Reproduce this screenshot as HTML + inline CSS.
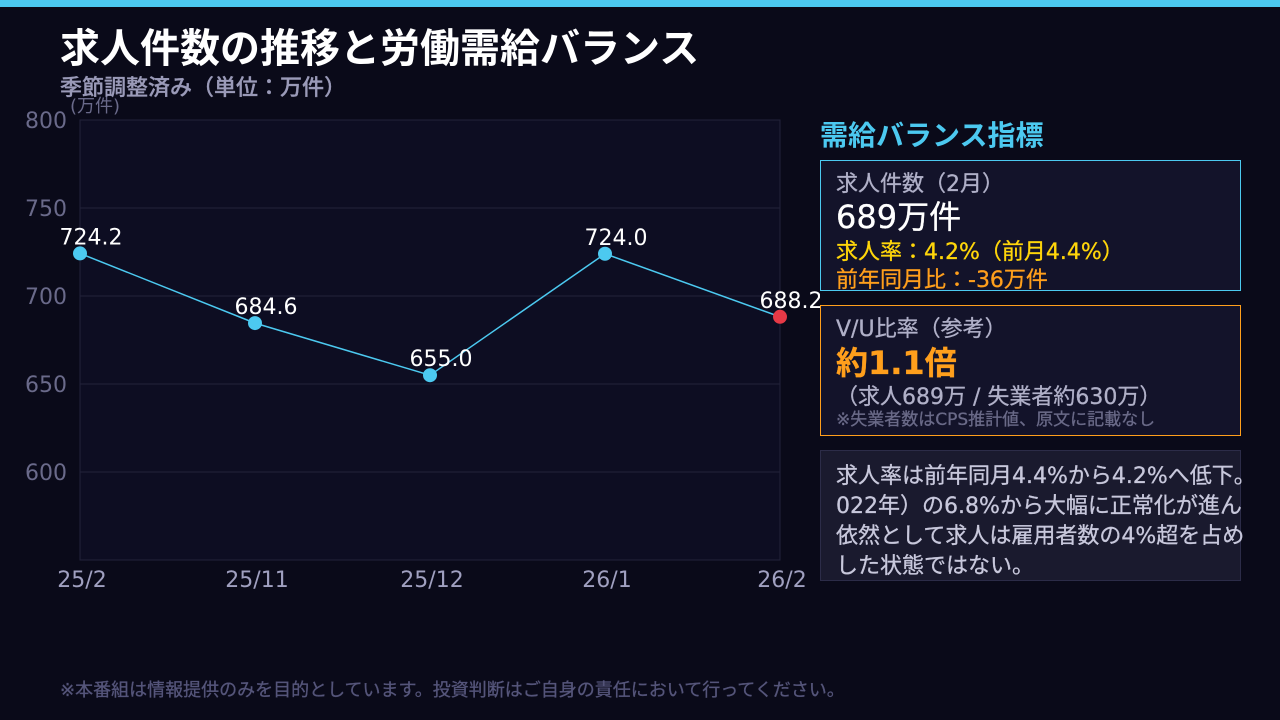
<!DOCTYPE html>
<html><head><meta charset="utf-8">
<style>
body{margin:0;width:1280px;height:720px;background:#0a0a19;overflow:hidden;font-family:"DejaVu Sans","Noto Sans CJK JP",sans-serif;position:relative}
.a{position:absolute;white-space:nowrap;line-height:1.15}
.box{position:absolute;left:820px;width:421px;box-sizing:border-box;background:#13132a}
.box .a{-webkit-text-stroke:0.3px currentColor}
</style></head><body>
<div class="a" style="left:0;top:0;width:1280px;height:7px;background:#4cc9f0"></div>
<div class="a" style="left:60px;top:22px;font-size:40px;font-weight:bold;color:#fff;font-family:'Noto Sans CJK JP',sans-serif">求人件数の推移と労働需給バランス</div>
<div class="a" style="left:60px;top:76px;font-size:22px;font-weight:500;color:#9a9ab8;-webkit-text-stroke:0.3px #9a9ab8">季節調整済み（単位：万件）</div>
<svg class="a" style="left:0;top:0" width="820" height="600" id="ch"></svg>
<div class="a" style="left:820px;top:120px;font-size:28px;font-weight:bold;color:#4cc9f0">需給バランス指標</div>
<div class="box" style="top:160px;height:131px;border:1px solid #4cc9f0">
 <div class="a" style="left:15px;top:11px;font-size:22px;color:#b0b0c8">求人件数（2月）</div>
 <div class="a" style="left:15px;top:38px;font-size:32px;color:#fff">689万件</div>
 <div class="a" style="left:15px;top:79px;font-size:22px;color:#ffd60a">求人率：4.2%（前月4.4%）</div>
 <div class="a" style="left:15px;top:107px;font-size:22px;color:#ff9f1c">前年同月比：-36万件</div>
</div>
<div class="box" style="top:305px;height:131px;border:1px solid #ff9f1c">
 <div class="a" style="left:15px;top:11px;font-size:22px;color:#b0b0c8">V/U比率（参考）</div>
 <div class="a" style="left:15px;top:39px;font-size:32px;font-weight:bold;color:#ff9f1c">約1.1倍</div>
 <div class="a" style="left:15px;top:79px;font-size:22px;color:#b0b0c8">（求人689万 / 失業者約630万）</div>
 <div class="a" style="left:15px;top:105px;font-size:17px;color:#6a6a88">※失業者数はCPS推計値、原文に記載なし</div>
</div>
<div class="box" style="top:450px;height:131px;border:1px solid #2c2c48;background:#1a1a2e;overflow:visible">
 <div class="a" style="left:15px;top:11px;font-size:22px;line-height:30px;color:#c8c8dc">求人率は前年同月4.4%から4.2%へ低下。<br>022年）の6.8%から大幅に正常化が進ん<br>依然として求人は雇用者数の4%超を占め<br>した状態ではない。</div>
</div>
<div class="a" style="left:60px;top:681px;font-size:18px;color:#55557a;-webkit-text-stroke:0.3px #55557a">※本番組は情報提供のみを目的としています。投資判断はご自身の責任において行ってください。</div>
<script>
const categories=["25/2","25/11","25/12","26/1","26/2"];
const values=[724.2,684.6,655.0,724.0,688.2];
const yTicks=[600,650,700,750,800];
const ns="http://www.w3.org/2000/svg",svg=document.getElementById('ch');
const X0=80,X1=780,Y0=120,Y1=560,ymin=550,ymax=800;
const FF='"DejaVu Sans","Noto Sans CJK JP",sans-serif';
const xs=i=>X0+i*(X1-X0)/(categories.length-1);
const ys=v=>Y1-(v-ymin)/(ymax-ymin)*(Y1-Y0);
function mk(t,a,txt){const e=document.createElementNS(ns,t);for(const k in a)e.setAttribute(k,a[k]);if(txt!=null)e.textContent=txt;svg.appendChild(e);return e;}
let r=mk('rect',{x:X0,y:Y0,width:X1-X0,height:Y1-Y0,fill:'#0d0d22',stroke:'#22223a'});


yTicks.forEach(v=>{
 let g=mk('line',{x1:X0,x2:X1,y1:ys(v),y2:ys(v),stroke:'#22223a'});
 
 
 let t=mk('text',{x:67,y:ys(v)+8,'text-anchor':'end','font-size':22,fill:'#6a6a8a','font-family':FF},v);
 
 
});
let u=mk('text',{x:70,y:112,'font-size':18,fill:'#6a6a8a','font-family':FF},'(万件)');


categories.forEach((c,i)=>{
 let t=mk('text',{x:xs(i)+2,y:587,'text-anchor':'middle','font-size':22,fill:'#a0a0c0','font-family':FF},c);
 
 
});
let pl=mk('polyline',{points:values.map((v,i)=>xs(i)+','+ys(v)).join(' '),fill:'none',stroke:'#4cc9f0','stroke-width':1.5});


values.forEach((v,i)=>{
 let last=i===values.length-1;
 let c=mk('circle',{cx:xs(i),cy:ys(v),r:7,fill:last?'#e63946':'#4cc9f0'});
 
 
 let t=mk('text',{x:xs(i)+11,y:ys(v)-9,'text-anchor':'middle','font-size':22,fill:'#fff','font-family':FF},v.toFixed(1));
 
 
});
</script>
</body></html>
